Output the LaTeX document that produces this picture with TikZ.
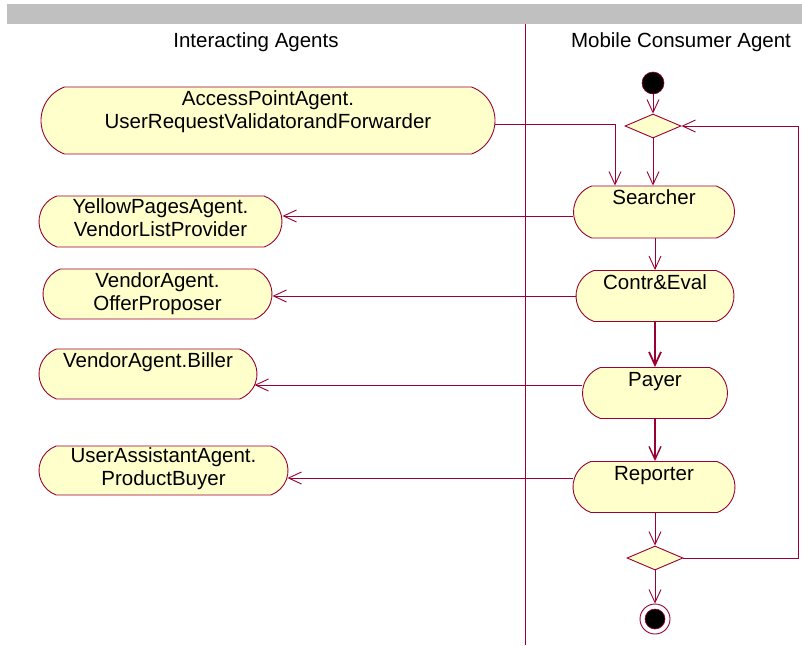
\documentclass[tikz,border=0pt]{standalone}
\usepackage{fontspec}
\setmainfont{Liberation Sans}
\usetikzlibrary{arrows.meta,shapes.misc,shapes.geometric}
\definecolor{umlline}{HTML}{990033}
\definecolor{umlfill}{HTML}{FFFFCC}
\definecolor{lanebar}{HTML}{C0C0C0}

\tikzset{
  act/.style={draw=umlline, fill=umlfill, line width=0.9pt, rounded rectangle,
    rounded rectangle arc length=140, inner sep=0pt},
  decision/.style={draw=umlline, fill=umlfill, line width=0.9pt, diamond,
    inner sep=0pt, minimum width=56pt, minimum height=24pt},
  acttext/.style={font=\fontsize{20.5}{23}\selectfont, align=center, inner sep=0pt, anchor=base},
  lanetitle/.style={font=\fontsize{20.5}{23}\selectfont, inner sep=0pt, anchor=base},
  flow/.style={draw=umlline, line width=0.9pt, -{Straight Barb[length=13pt,width=12pt]}},
  heavyflow/.style={flow, line width=1.8pt},
}

\begin{document}
\begin{tikzpicture}[x=1pt,y=-1pt]
\useasboundingbox (0,0) rectangle (802,645);

% swimlane header and divider
\fill[lanebar] (7,4) rectangle (802,24);
\draw[umlline, line width=0.9pt] (525,24) -- (525,645);
\node[lanetitle] (laneA) at (256,47) {Interacting Agents};
\node[lanetitle] (laneB) at (681,47) {Mobile Consumer Agent};

% Mobile Consumer Agent lane
\node[circle, fill=black, draw=umlline, line width=0.6pt, minimum size=22pt, inner sep=0pt] (init) at (653,83) {};
\node[decision] (d1) at (653,126) {};
\node[act, minimum width=161pt, minimum height=52pt] (searcher) at (654,212) {};
\node[act, minimum width=158pt, minimum height=51pt] (contr) at (655,296) {};
\node[act, minimum width=145pt, minimum height=51pt] (payer) at (655,393) {};
\node[act, minimum width=162pt, minimum height=51pt] (reporter) at (654,487) {};
\node[decision] (d2) at (655,558) {};
\node[circle, draw=umlline, fill=white, line width=0.9pt, minimum size=30pt, inner sep=0pt] (final) at (655,619) {};
\node[circle, fill=black, draw=umlline, line width=0.6pt, minimum size=20pt, inner sep=0pt] (finaldot) at (final.center) {};

% single-line labels sit on their baseline
\node[acttext] (searchert) at ([yshift=-19pt]searcher.north) {Searcher};
\node[acttext] (contrt) at ([yshift=-19.5pt]contr.north) {Contr\&Eval};
\node[acttext] (payert) at ([yshift=-19.5pt]payer.north) {Payer};
\node[acttext] (reportert) at ([yshift=-19pt]reporter.north) {Reporter};

% Interacting Agents lane
\node[act, minimum width=454pt, minimum height=67pt] (ap) at (268,120.5) {};
\node[act, minimum width=243pt, minimum height=51pt] (yp) at (160.5,221.5) {};
\node[act, minimum width=229pt, minimum height=50pt] (offer) at (157.5,294) {};
\node[act, minimum width=218pt, minimum height=50pt] (biller) at (148,374) {};
\node[act, minimum width=249pt, minimum height=49pt] (buyer) at (163.5,470.5) {};

% two-line labels: the base anchor is the baseline of the second line
\node[acttext] (apt) at ([yshift=-42pt]ap.north) {AccessPointAgent.\\UserRequestValidatorandForwarder};
\node[acttext] (ypt) at ([yshift=-40.5pt]yp.north) {YellowPagesAgent.\\VendorListProvider};
\node[acttext] (offert) at ([yshift=-41.5pt]offer.north) {VendorAgent.\\OfferProposer};
\node[acttext] (billert) at ([yshift=-19pt]biller.north) {VendorAgent.Biller};
\node[acttext] (buyert) at ([yshift=-40pt]buyer.north) {UserAssistantAgent.\\ProductBuyer};

% control flow
\coordinate (apin) at (615,0);
\coordinate (loop) at (798,0);
\draw[flow] (init) -- (d1);
\draw[flow] (d1) -- (d1 |- searcher.north);
\draw[flow] ([yshift=-4pt]ap.east) -- ([yshift=-4pt]ap.east -| apin) -- (apin |- searcher.north);
\draw[flow] (searcher.south -| contr.north) -- (contr.north);
\draw[heavyflow] (contr.south) -- (payer.north);
\draw[flow, line width=1.4pt] (payer.south) -- (reporter.north -| payer.south);
\draw[flow] (reporter.south -| d2.north) -- (d2.north);
\draw[flow] (d2) -- (final);
\draw[flow] (d2.east) -- (d2.east -| loop) -- (d1.east -| loop) -- (d1.east);

% calls to the interacting agents
\draw[flow] ([yshift=-4pt]searcher.west) -- ([yshift=-4pt]searcher.west -| yp.east);
\draw[flow] (contr.west) -- (contr.west -| offer.east);
\draw[flow] ([yshift=8pt]payer.west) -- ([yshift=8pt, xshift=-3pt]payer.west -| biller.east);
\draw[flow] ([yshift=9pt]reporter.west) -- ([yshift=9pt, xshift=-1pt]reporter.west -| buyer.east);
\end{tikzpicture}
\end{document}
